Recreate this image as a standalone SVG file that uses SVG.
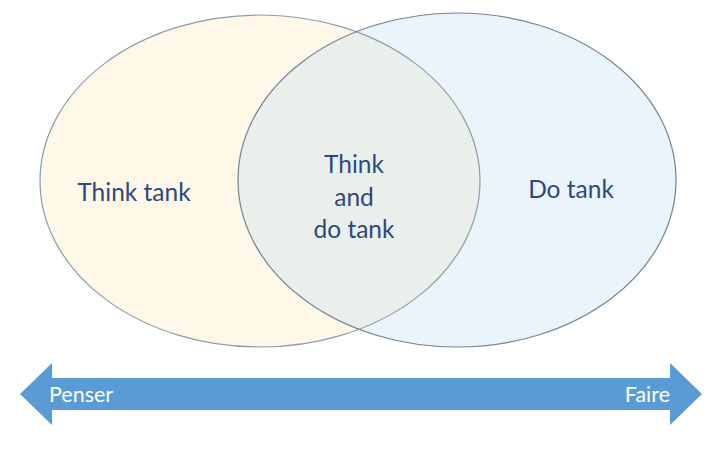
<svg xmlns="http://www.w3.org/2000/svg" width="720" height="450" viewBox="0 0 720 450">
  <style>
    .lbl { font-family: Lato, "Open Sans", "Liberation Sans", sans-serif; font-size: 24.5px; fill: #2B4A80; text-anchor: middle; }
    .arr { font-family: Lato, "Open Sans", "Liberation Sans", sans-serif; font-size: 21.5px; fill: #FFFFFF; }
  </style>
  <defs>
    <clipPath id="clipLeft">
      <ellipse cx="260" cy="181" rx="220" ry="166"/>
    </clipPath>
  </defs>
  <rect width="720" height="450" fill="#FFFFFF"/>
  <g id="think-tank">
    <ellipse cx="260" cy="181" rx="220" ry="166" fill="#FFF8E8"/>
  </g>
  <g id="do-tank">
    <ellipse cx="457" cy="180" rx="219" ry="167" fill="#EBF3FB"/>
  </g>
  <g id="think-and-do-tank">
    <ellipse cx="457" cy="180" rx="219" ry="167" fill="#EBEFEC" clip-path="url(#clipLeft)"/>
  </g>
  <ellipse cx="260" cy="181" rx="220" ry="166" fill="none" stroke="#8C9CAD" stroke-width="1.2"/>
  <ellipse cx="457" cy="180" rx="219" ry="167" fill="none" stroke="#6F8598" stroke-width="1.2"/>
  <text class="lbl" x="134" y="201">Think tank</text>
  <text class="lbl" x="354" y="173">Think</text>
  <text class="lbl" x="354" y="206">and</text>
  <text class="lbl" x="354" y="238">do tank</text>
  <text class="lbl" x="571" y="198">Do tank</text>
  <g id="connectors">
    <g id="axis">
      <polygon points="20,394 52,363 52,378 670,378 670,363 702,394 670,425 670,410 52,410 52,425" fill="#5B9BD5"/>
      <text class="arr" x="49" y="402">Penser</text>
      <text class="arr" x="670" y="402" text-anchor="end">Faire</text>
    </g>
  </g>
</svg>
